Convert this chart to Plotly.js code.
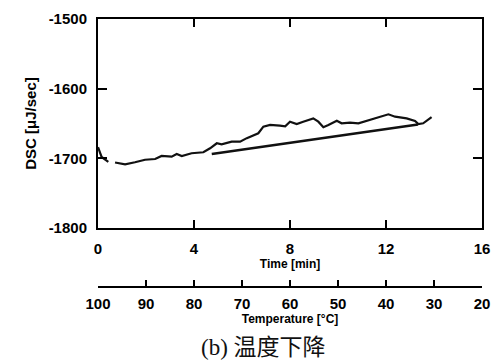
<!DOCTYPE html>
<html>
<head>
<meta charset="utf-8">
<script src="https://cdn.plot.ly/plotly-3.0.1.min.js"></script>
<style>html,body{margin:0;padding:0;background:#fff;}#chart{width:499px;height:364px;}#err{position:absolute;left:0;top:0;font:10px monospace;color:red;}</style>
</head>
<body>
<div id="chart"></div>
<div id="err"></div>
<script>
window.onerror = function (m) { document.getElementById('err').textContent = String(m); };
// DSC trace during cooling (time in min, DSC in uJ/sec)
const timeMin = [0, 0.15, 0.43, null, 0.71, 1.13, 1.54, 1.96, 2.38, 2.65, 3.07, 3.28, 3.49, 3.9, 4.39, 4.67, 4.95, 5.15, 5.57, 5.92, 6.2, 6.47, 6.68, 6.89, 7.17, 7.58, 7.8, 8.0, 8.28, 8.55, 8.76, 8.97, 9.18, 9.39, 9.6, 9.95, 10.15, 10.5, 10.85, 11.2, 11.54, 11.89, 12.1, 12.38, 12.86, 13.21, 13.35, 13.55, 13.9];
const dscValue = [-1684, -1698, -1705, null, -1706, -1708.5, -1705.6, -1702, -1701, -1696.6, -1697.6, -1693.7, -1696.6, -1692.7, -1691.3, -1685.6, -1678.4, -1680, -1676, -1676, -1671, -1666.5, -1664, -1654.5, -1652, -1653, -1654, -1647.4, -1650.7, -1647.4, -1645, -1642.6, -1647.4, -1655.4, -1652, -1646, -1649.7, -1648.8, -1649.7, -1646, -1642.6, -1639.2, -1636.8, -1640.2, -1642.6, -1646.4, -1650.7, -1649.7, -1641];
// straight baseline
const baseTime = [4.74, 13.33];
const baseValue = [-1693.8, -1651.5];
// axes
const timeRange = [0, 16];
const timeTicks = [0, 4, 8, 12, 16];
const dscRange = [-1800, -1500];
const dscTicks = [-1800, -1700, -1600, -1500];
const tempRange = [100, 20];
const tempTicks = [100, 90, 80, 70, 60, 50, 40, 30, 20];
const captionText = '(b) 温度下降';

const bold = s => '<b>' + s + '</b>';
const tickFont = {family: 'Liberation Sans, Arial, sans-serif', size: 15, color: 'black'};
const titleFont = {family: 'Liberation Sans, Arial, sans-serif', size: 12, color: 'black'};

const traces = [
  {x: timeMin, y: dscValue, mode: 'lines', line: {color: '#111', width: 2.2}, connectgaps: false, showlegend: false, hoverinfo: 'skip'},
  {x: baseTime, y: baseValue, mode: 'lines', line: {color: '#111', width: 2.6}, showlegend: false, hoverinfo: 'skip'},
  {x: tempRange, y: [null, null], xaxis: 'x2', yaxis: 'y2', mode: 'lines', showlegend: false, hoverinfo: 'skip'}
];

const layout = {
  width: 499, height: 364,
  margin: {l: 98, r: 17, t: 19, b: 64},
  showlegend: false,
  xaxis: {
    range: timeRange, tickmode: 'array', tickvals: timeTicks, ticktext: timeTicks.map(bold),
    ticks: 'inside', ticklen: 8, tickwidth: 2, tickcolor: 'black',
    showline: true, linecolor: 'black', linewidth: 2, mirror: 'ticks',
    showgrid: false, zeroline: false, tickfont: tickFont, ticklabelstandoff: 6,
    title: {text: bold('Time [min]'), font: titleFont, standoff: 0}
  },
  yaxis: {
    range: dscRange, domain: [0.2562, 1], tickmode: 'array', tickvals: dscTicks, ticktext: dscTicks.map(bold),
    ticks: 'inside', ticklen: 9, tickwidth: 2, tickcolor: 'black',
    showline: true, linecolor: 'black', linewidth: 2, mirror: 'ticks',
    showgrid: false, zeroline: false, tickfont: tickFont, ticklabelstandoff: 6,
    title: {text: bold('DSC [μJ/sec]'), font: {family: 'Liberation Sans, Arial, sans-serif', size: 15, color: 'black'}, standoff: 8}
  },
  xaxis2: {
    anchor: 'y2', domain: [0, 1], side: 'bottom',
    range: tempRange, tickmode: 'array', tickvals: tempTicks, ticktext: tempTicks.map(bold),
    ticks: 'inside', ticklen: 6, tickwidth: 2, tickcolor: 'black',
    showline: true, linecolor: 'black', linewidth: 2,
    showgrid: false, zeroline: false, tickfont: tickFont, ticklabelstandoff: 3,
    title: {text: bold('Temperature [°C]'), font: titleFont, standoff: 0}
  },
  yaxis2: {
    anchor: 'x2', domain: [0.05, 0.1], range: [0, 1], visible: false, showgrid: false, zeroline: false
  },
  annotations: [{
    text: captionText, xref: 'paper', yref: 'paper', x: 0.432, y: -0.17,
    xanchor: 'center', yanchor: 'middle', showarrow: false,
    font: {family: 'Liberation Serif, Noto Sans CJK SC, serif', size: 23, color: '#111'}
  }]
};

Plotly.newPlot('chart', traces, layout, {displayModeBar: false, staticPlot: true})
  .catch(e => { document.getElementById('err').textContent = String(e); });
</script>
</body>
</html>
